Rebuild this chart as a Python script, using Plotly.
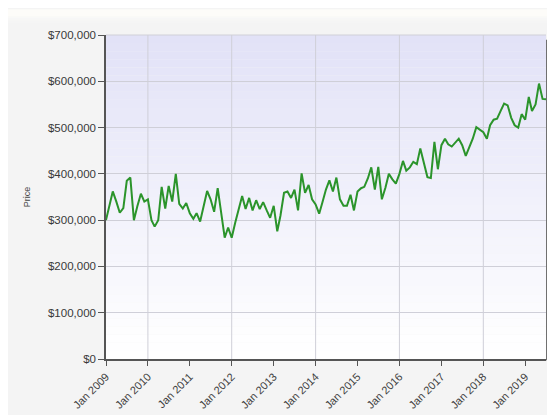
import plotly.graph_objects as go
import pandas as pd

start_month = "2009-01-01"
prices = [
    300000, 335000, 362000, 340000, 316000, 326000, 385000, 392000, 300000, 330000, 357000, 340000,
    345000, 300000, 286000, 300000, 372000, 325000, 374000, 340000, 400000, 335000, 325000, 337000,
    315000, 303000, 315000, 297000, 330000, 363000, 345000, 318000, 369000, 320000, 262000, 284000,
    262000, 295000, 322000, 352000, 324000, 348000, 321000, 343000, 324000, 339000, 321000, 305000,
    331000, 276000, 310000, 359000, 362000, 348000, 366000, 321000, 401000, 359000, 376000, 345000,
    334000, 314000, 338000, 366000, 386000, 362000, 392000, 345000, 331000, 331000, 355000, 321000,
    362000, 369000, 372000, 390000, 414000, 366000, 415000, 345000, 370000, 400000, 388000, 379000,
    400000, 428000, 407000, 414000, 426000, 421000, 455000, 425000, 393000, 391000, 469000, 410000,
    462000, 476000, 464000, 459000, 468000, 476000, 462000, 439000, 458000, 476000, 501000, 495000,
    490000, 476000, 505000, 517000, 519000, 536000, 552000, 548000, 521000, 505000, 500000, 529000,
    517000, 566000, 536000, 550000, 595000, 562000, 561000,
]
dates = pd.date_range(start_month, periods=len(prices), freq="MS")

tick_dates = [f"{y}-01-01" for y in range(2009, 2020)]
tick_labels = [f"Jan {y}" for y in range(2009, 2020)]
grid_dates = [f"{y}-01-01" for y in (2010, 2012, 2014, 2016, 2018)]
y_ticks = [0, 100000, 200000, 300000, 400000, 500000, 600000, 700000]
y_labels = [f"${v:,.0f}" for v in y_ticks]

W, H = 555, 415
ML, MR, MT, MB = 98, 17, 27, 49
PH = H - MT - MB


def py(p):
    """pixel row -> paper y"""
    return 1 + (MT - p) / PH


fig = go.Figure()
fig.add_trace(go.Scatter(
    x=dates, y=prices, mode="lines",
    line=dict(color="#2b942b", width=2),
    hoverinfo="skip", showlegend=False,
))

shapes = []
# white strip at the very top of the page fading into the grey page
shapes.append(dict(type="rect", xref="paper", yref="paper", x0=-0.3, x1=1.1,
                   y0=py(8), y1=py(0), fillcolor="#fdfcf9", line=dict(width=0), layer="below"))
for i, c in enumerate(["#f9f9f8", "#f7f7f6", "#f5f5f5"]):
    shapes.append(dict(type="rect", xref="paper", yref="paper", x0=-0.3, x1=1.1,
                       y0=py(10 + 2 * i), y1=py(8 + 2 * i),
                       fillcolor=c, line=dict(width=0), layer="below"))
# plot-area vertical gradient (lavender at top to white at bottom)
n = 40
top = (226, 226, 247)
for i in range(n):
    f = i / (n - 1)
    r = round(top[0] + (255 - top[0]) * f)
    g = round(top[1] + (255 - top[1]) * f)
    b = round(top[2] + (255 - top[2]) * f)
    shapes.append(dict(
        type="rect", xref="paper", yref="paper",
        x0=0, x1=1, y1=1 - i / n, y0=1 - (i + 1) / n,
        fillcolor=f"rgb({r},{g},{b})", line=dict(width=0), layer="below",
    ))
# vertical grid lines every two years
for d in grid_dates:
    shapes.append(dict(
        type="line", xref="x", yref="paper", x0=d, x1=d, y0=0, y1=1,
        line=dict(color="#cfcfd8", width=1), layer="below",
    ))
# frame: light top border, dark right border (shadow)
shapes.append(dict(type="line", xref="paper", yref="paper", x0=0, x1=1, y0=1, y1=1,
                   line=dict(color="#d0d0d8", width=1)))
shapes.append(dict(type="line", xref="paper", yref="paper", x0=1.003, x1=1.003, y0=-0.004, y1=0.985,
                   line=dict(color="#666666", width=2.5)))

fig.update_layout(
    width=W, height=H,
    margin=dict(l=ML, r=MR, t=MT, b=MB),
    paper_bgcolor="#f4f4f4",
    plot_bgcolor="rgba(0,0,0,0)",
    shapes=shapes,
    font=dict(family="Liberation Sans, Arial, sans-serif", color="#333333"),
    xaxis=dict(
        type="date",
        range=[start_month, dates[-1]],
        tickmode="array", tickvals=tick_dates, ticktext=tick_labels,
        tickangle=-45, tickfont=dict(size=11, color="#404040"),
        ticks="outside", ticklen=5, tickcolor="#555555",
        showgrid=False, zeroline=False,
        showline=True, linecolor="#555555", linewidth=2,
    ),
    yaxis=dict(
        range=[0, 700000],
        tickmode="array", tickvals=y_ticks, ticktext=y_labels,
        tickfont=dict(size=11.5, color="#383838"),
        ticks="outside", ticklen=6, tickcolor="#555555",
        showgrid=True, gridcolor="#cfcfd8", gridwidth=1,
        zeroline=False,
        showline=True, linecolor="#555555", linewidth=1.5,
        title=dict(text="Price", font=dict(size=9, color="#444444"), standoff=16),
    ),
)

fig.write_html("out.html")
